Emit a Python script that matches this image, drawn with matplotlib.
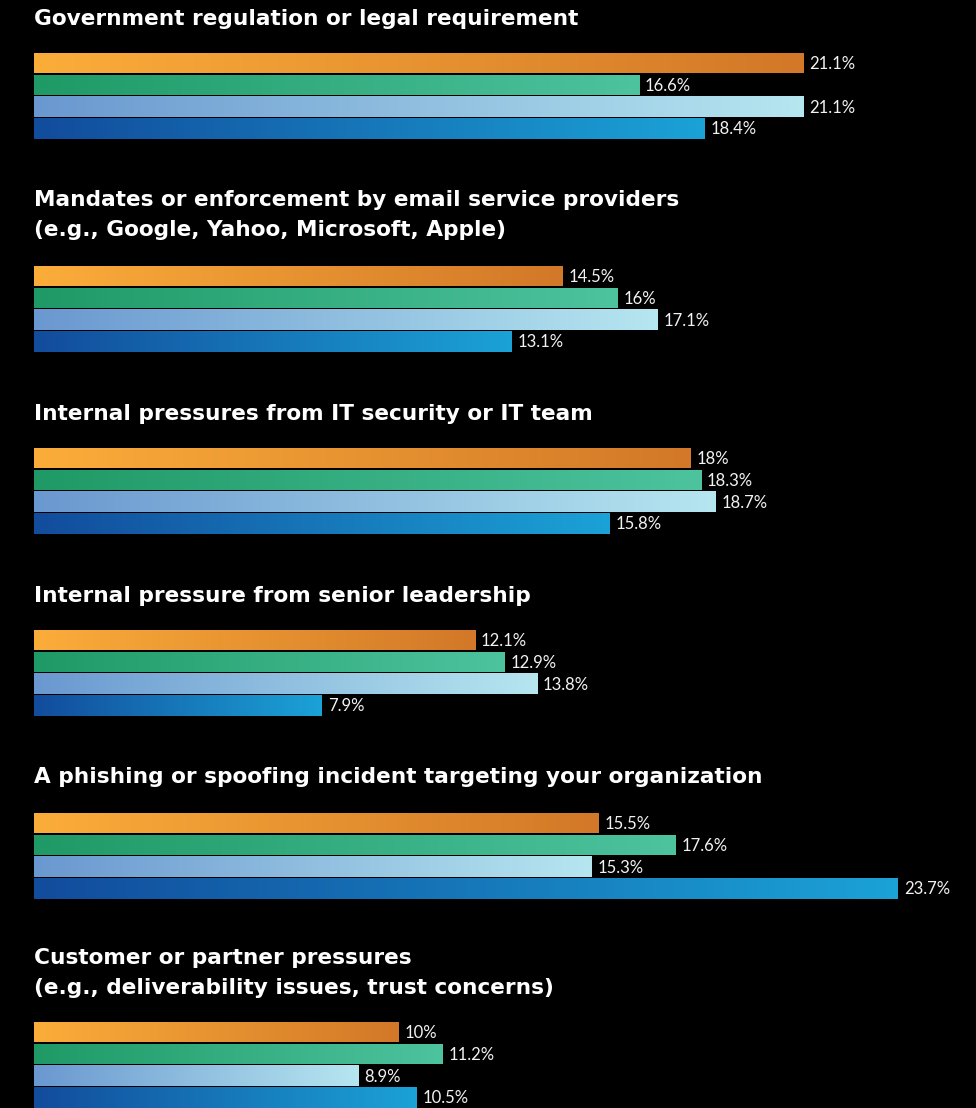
import numpy as np
import matplotlib
matplotlib.use("Agg")
import matplotlib.pyplot as plt
from matplotlib.colors import LinearSegmentedColormap

categories = [
    "Government regulation or legal requirement",
    "Mandates or enforcement by email service providers\n(e.g., Google, Yahoo, Microsoft, Apple)",
    "Internal pressures from IT security or IT team",
    "Internal pressure from senior leadership",
    "A phishing or spoofing incident targeting your organization",
    "Customer or partner pressures\n(e.g., deliverability issues, trust concerns)",
]
series_orange = [21.1, 14.5, 18.0, 12.1, 15.5, 10.0]
series_green = [16.6, 16.0, 18.3, 12.9, 17.6, 11.2]
series_lightblue = [21.1, 17.1, 18.7, 13.8, 15.3, 8.9]
series_darkblue = [18.4, 13.1, 15.8, 7.9, 23.7, 10.5]

series = [series_orange, series_green, series_lightblue, series_darkblue]
gradients = [
    ("#FBAD3A", "#D27828"),
    ("#1F9A66", "#4DC39E"),
    ("#6A98D0", "#B6E6F0"),
    ("#124C9C", "#1BA2D6"),
]

# layout (pixel units on the vertical axis)
title_y = [19, 215, 414, 596, 777, 973]
first_bar_y = [63, 276, 458, 640, 823, 1032]
pitch = 21.8
bar_h = 20.5
px_per_pct = 36.45
left_px = 34

W, H = 976, 1108
fig = plt.figure(figsize=(W / 100, H / 100), dpi=100, facecolor="black")
ax = fig.add_axes([0, 0, 1, 1])
ax.set_facecolor("black")
ax.set_xlim(-left_px / px_per_pct, (W - left_px) / px_per_pct)
ax.set_ylim(H, 0)
ax.axis("off")

grad = np.linspace(0, 1, 256).reshape(1, -1)
label_off = 6 / px_per_pct

for gi, cat in enumerate(categories):
    ax.text(0, title_y[gi], cat, color="white", fontsize=15.6, fontweight="bold",
            family=["DejaVu Sans"], va="center", ha="left", linespacing=1.6)
    for si, vals in enumerate(series):
        v = vals[gi]
        yc = first_bar_y[gi] + si * pitch
        cmap = LinearSegmentedColormap.from_list("g", gradients[si])
        bars = ax.barh(yc, v, height=bar_h, left=0, color="none", edgecolor="none")
        rect = bars[0]
        im = ax.imshow(grad, cmap=cmap, aspect="auto",
                       extent=[0, v, yc + bar_h / 2, yc - bar_h / 2],
                       interpolation="bilinear", zorder=2)
        im.set_clip_path(rect)
        ax.text(v + label_off, yc + 1, f"{v:g}%", color="#f2f2f2", fontsize=12,
                fontweight="normal", family=["Lato", "DejaVu Sans"],
                va="center", ha="left")

ax.set_xlim(-left_px / px_per_pct, (W - left_px) / px_per_pct)
ax.set_ylim(H, 0)
fig.savefig("out.png", dpi=100, facecolor="black")
